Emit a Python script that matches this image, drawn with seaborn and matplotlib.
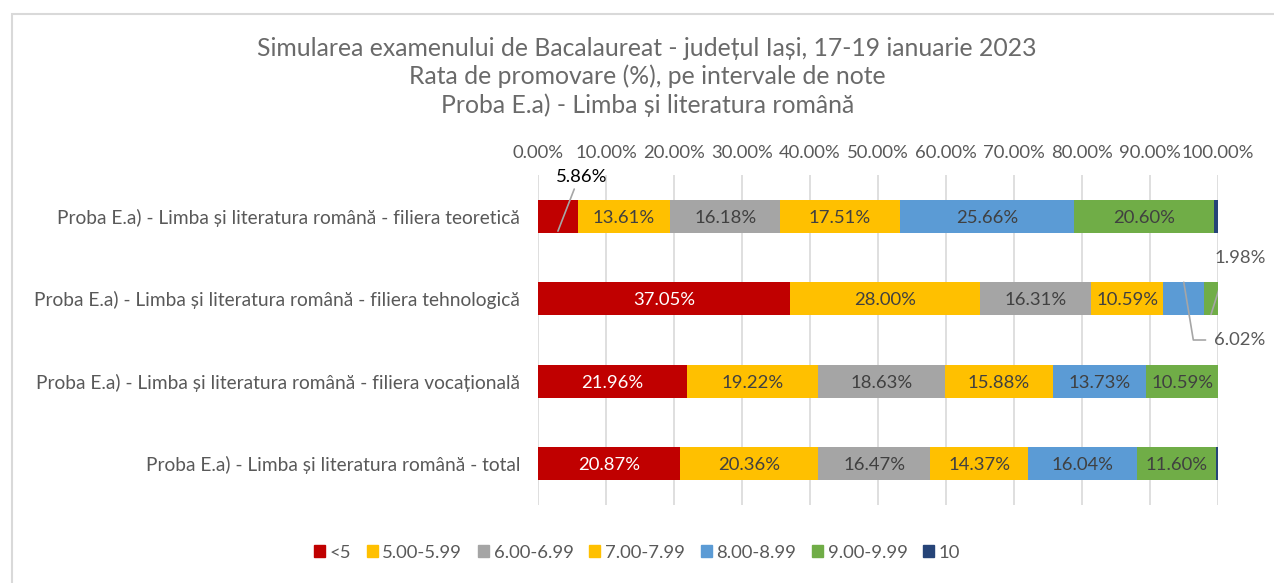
import numpy as np
import pandas as pd
import matplotlib.pyplot as plt
import matplotlib.patches as mpatches
import seaborn as sns

# Date

categorii = [
    "Proba E.a) - Limba și literatura română - filiera teoretică",
    "Proba E.a) - Limba și literatura română - filiera tehnologică",
    "Proba E.a) - Limba și literatura română - filiera vocațională",
    "Proba E.a) - Limba și literatura română - total",
]
intervale = ["<5", "5.00-5.99", "6.00-6.99", "7.00-7.99", "8.00-8.99", "9.00-9.99", "10"]

nota_sub5 = [5.86, 37.05, 21.96, 20.87]
nota_5 = [13.61, 28.00, 19.22, 20.36]
nota_6 = [16.18, 16.31, 18.63, 16.47]
nota_7 = [17.51, 10.59, 15.88, 14.37]
nota_8 = [25.66, 6.02, 13.73, 16.04]
nota_9 = [20.60, 1.98, 10.59, 11.60]
nota_10 = [0.58, 0.05, 0.0, 0.29]

culori = ["#C00000", "#FFC000", "#A5A5A5", "#FFC000", "#5B9BD5", "#70AD47", "#264478"]

serii = [nota_sub5, nota_5, nota_6, nota_7, nota_8, nota_9, nota_10]
valori = np.array(serii)
cumulat = valori.cumsum(axis=0)

# Figura

sns.set_theme(style="white")
plt.rcParams['font.family'] = ['Lato', 'DejaVu Sans']
text_gri = "#595959"
fs = 13.3

fig = plt.figure(figsize=(12.74, 5.83), dpi=100)
ax = fig.add_axes([0.4223, 0.1338, 0.5338, 0.566])

# bare suprapuse (de la cumulatul cel mai mare la cel mai mic)
for i in range(len(serii) - 1, -1, -1):
    df = pd.DataFrame({"cat": categorii, "cum": cumulat[i]})
    sns.barplot(data=df, x="cum", y="cat", color=culori[i], width=0.4,
                errorbar=None, orient="h", ax=ax, saturation=1, linewidth=0)

ax.set_xlim(0, 100)
ax.set_ylim(3.5, -0.5)
ax.set_xticks(np.arange(0, 101, 10))
ax.set_xticklabels([f"{v:.2f}%" for v in np.arange(0, 101, 10)])
ax.xaxis.tick_top()
ax.tick_params(axis='x', labelsize=fs, colors=text_gri, pad=10, length=0)
ax.tick_params(axis='y', labelsize=13.8, colors=text_gri, pad=13, length=0)
ax.set_xlabel("")
ax.set_ylabel("")
ax.grid(axis='x', color="#D9D9D9", linewidth=1.2)
ax.set_axisbelow(True)
for s in ax.spines.values():
    s.set_visible(False)

# etichete de date
for i in range(6):
    for j in range(len(categorii)):
        v = valori[i, j]
        centru = cumulat[i, j] - v / 2
        culoare = "white" if i == 0 else "#404040"
        if v < 7:
            continue
        ax.text(centru, j + 0.02, f"{v:.2f}%", ha="center", va="center",
                fontsize=fs, color=culoare)

# etichete exterioare cu linii de legatura
linie = dict(color="#A6A6A6", lw=1.2)
c = cumulat[0, 0] - valori[0, 0] / 2
ax.plot([c, c + 2.4], [0.18, -0.33], **linie)
ax.text(c + 3.5, -0.47, f"{valori[0, 0]:.2f}%", ha="center", va="center",
        fontsize=fs, color="black")

c = cumulat[5, 1] - valori[5, 1] / 2
ax.plot([c, c + 2.2], [1.19, 0.62], **linie)
ax.text(c + 4.3, 0.5, f"{valori[5, 1]:.2f}%", ha="center", va="center",
        fontsize=fs, color=text_gri, clip_on=False)

c = cumulat[4, 1] - valori[4, 1] / 2
ax.plot([c, c + 1.4, c + 3.2], [0.8, 1.5, 1.5], clip_on=False, **linie)
ax.text(c + 4.4, 1.5, f"{valori[4, 1]:.2f}%", ha="left", va="center",
        fontsize=fs, color=text_gri, clip_on=False)

# titlu
fig.text(0.508, 0.868,
         "Simularea examenului de Bacalaureat - județul Iași, 17-19 ianuarie 2023\n"
         "Rata de promovare (%), pe intervale de note\n"
         "Proba E.a) - Limba și literatura română",
         ha="center", va="center", fontsize=17.8, fontweight="normal",
         color="#6a6a6a", linespacing=1.27)

# legenda
handles = [mpatches.Patch(color=culori[i], label=intervale[i]) for i in range(len(intervale))]
fig.legend(handles=handles, loc="center", bbox_to_anchor=(0.5, 0.052), ncol=7,
           frameon=False, fontsize=fs, labelcolor=text_gri, handlelength=0.6,
           handleheight=0.6, handletextpad=0.25, columnspacing=0.85)

# chenar
fig.patches.append(mpatches.Rectangle((0.0094, -0.2), 1.2, 0.976 + 0.2, fill=False,
                                      edgecolor="#D9D9D9", lw=1.5,
                                      transform=fig.transFigure, figure=fig))

fig.savefig("out.png", dpi=100)
